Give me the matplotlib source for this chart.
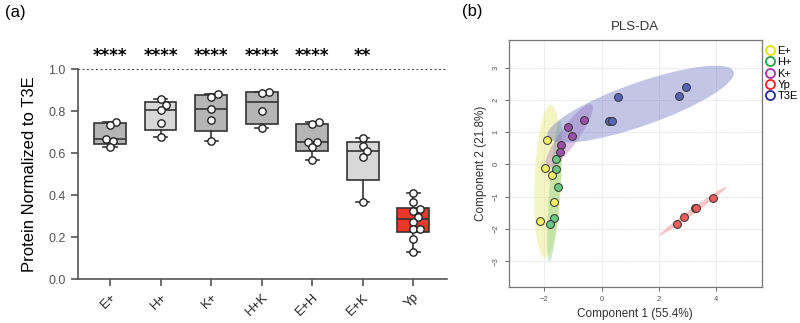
import numpy as np
import matplotlib
matplotlib.use("Agg")
import matplotlib.pyplot as plt
from matplotlib.patches import Ellipse
from matplotlib.lines import Line2D

plt.rcParams["font.family"] = ["Liberation Sans", "DejaVu Sans"]

# ---- panel (a) data: protein normalised to T3E ----
groups = ["E+", "H+", "K+", "H+K", "E+H", "E+K", "Yp"]
values = [
    [0.750, 0.735, 0.669, 0.658, 0.629],
    [0.860, 0.829, 0.805, 0.745, 0.675],
    [0.883, 0.867, 0.810, 0.757, 0.656],
    [0.892, 0.886, 0.800, 0.721],
    [0.748, 0.739, 0.655, 0.655, 0.628, 0.566],
    [0.674, 0.636, 0.610, 0.583, 0.366],
    [0.409, 0.367, 0.333, 0.323, 0.298, 0.272, 0.238, 0.238, 0.192, 0.130],
]
signif = ["****", "****", "****", "****", "****", "**", ""]
box_colors = ["#b5b5b5", "#d8d8d8", "#b5b5b5", "#b5b5b5", "#b5b5b5", "#d8d8d8", "#e8392a"]

# ---- panel (b) data: PLS-DA scores ----
pls_labels = ["E+", "H+", "K+", "Yp", "T3E"]
pls_x = [
    [-1.90, -1.97, -1.72, -1.66, -2.15],
    [-1.61, -1.60, -1.51, -1.68, -1.80],
    [-0.61, -1.16, -1.04, -1.42, -1.45],
    [2.63, 2.90, 3.28, 3.30, 3.91],
    [0.56, 2.70, 2.95, 0.27, 0.36],
]
pls_y = [
    [0.75, -0.12, -0.32, -1.16, -1.75],
    [0.16, -0.13, -0.70, -1.66, -1.83],
    [1.37, 1.17, 0.88, 0.61, 0.37],
    [-1.85, -1.64, -1.34, -1.36, -1.04],
    [2.10, 2.12, 2.41, 1.35, 1.35],
]
edge_cols = ["#e6e000", "#22a345", "#a832a8", "#ee2222", "#1f2c99"]
fill_cols = ["#f2ee66", "#6cc684", "#9b50a8", "#ef5a5a", "#5664b8"]
ell_cols = ["#e8e66a", "#7ccf7c", "#b070c0", "#ef7070", "#6a70c4"]


def swarm_offsets(vals, xscale, yscale, diam):
    """Simple beeswarm: pixel-space placement, returned in data units."""
    order = np.argsort(vals)
    placed = []
    offs = np.zeros(len(vals))
    cands = [0.0]
    for k in range(1, 60):
        cands += [k * 0.5, -k * 0.5]
    for i in order:
        yp = vals[i] * yscale
        for c in cands:
            if all((c - px) ** 2 + (yp - py) ** 2 >= diam ** 2 for px, py in placed):
                placed.append((c, yp))
                offs[i] = c / xscale
                break
    return offs


def conf_ellipse(x, y, ax, color):
    x, y = np.asarray(x), np.asarray(y)
    cov = np.cov(x, y)
    evals, evecs = np.linalg.eigh(cov)
    ang = np.degrees(np.arctan2(evecs[1, 1], evecs[0, 1]))
    s = np.sqrt(5.991)
    w, h = 2 * s * np.sqrt(evals[1]), 2 * s * np.sqrt(evals[0])
    ax.add_patch(Ellipse((x.mean(), y.mean()), w, h, angle=ang,
                         facecolor=color, edgecolor="none", alpha=0.4, zorder=1))


fig = plt.figure(figsize=(8, 3.23), dpi=100)

# ================= panel (a) =================
ax = fig.add_axes([0.097, 0.135, 0.462, 0.651])
stats = []
for v in values:
    v = np.asarray(v)
    q1, med, q3 = np.percentile(v, [25, 50, 75], method="weibull")
    stats.append(dict(med=med, q1=q1, q3=q3, whislo=v.min(), whishi=v.max(), fliers=[]))
pos = np.arange(len(groups))
bp = ax.bxp(stats, positions=pos, widths=0.63, capwidths=0.26, patch_artist=True,
            showfliers=False,
            boxprops=dict(edgecolor="#333333", linewidth=1.2),
            medianprops=dict(color="#333333", linewidth=1.2),
            whiskerprops=dict(color="#333333", linewidth=1.2),
            capprops=dict(color="#333333", linewidth=1.2))
for patch, c in zip(bp["boxes"], box_colors):
    patch.set_facecolor(c)

for i, v in enumerate(values):
    offs = swarm_offsets(np.asarray(v), 50.5, 210.3, 7.0)
    ax.scatter(pos[i] + offs, v, s=28, facecolor="white", edgecolor="#222222",
               linewidth=1.0, zorder=5, clip_on=False)

ax.axhline(1.0, color="#222222", linestyle=(0, (1, 1.5)), linewidth=1.3, zorder=0)
for i, s in enumerate(signif):
    if s:
        ax.text(pos[i], 1.062, s, ha="center", va="center", fontsize=12,
                fontweight="bold", family="DejaVu Sans")

ax.set_xlim(-0.64, 6.67)
ax.set_ylim(0, 1.0)
ax.set_yticks(np.arange(0, 1.01, 0.2))
ax.set_yticklabels([f"{t:.1f}" for t in np.arange(0, 1.01, 0.2)], fontsize=9, color="#333333")
ax.set_xticks(pos)
ax.set_xticklabels(groups, rotation=45, ha="right", rotation_mode="anchor", fontsize=9.5)
ax.set_ylabel("Protein Normalized to T3E", fontsize=12, labelpad=8)
for sp in ["top", "right"]:
    ax.spines[sp].set_visible(False)
for sp in ["left", "bottom"]:
    ax.spines[sp].set_color("#555555")
    ax.spines[sp].set_linewidth(1.2)
ax.tick_params(colors="#555555", width=1.2, length=5)
ax.tick_params(axis="x", labelcolor="#222222")
fig.text(0.006, 0.96, "(a)", fontsize=12, va="center")

# ================= panel (b) =================
bx = fig.add_axes([0.636, 0.112, 0.316, 0.764])
for i in range(len(pls_labels)):
    conf_ellipse(pls_x[i], pls_y[i], bx, ell_cols[i])
for i in range(len(pls_labels)):
    bx.scatter(pls_x[i], pls_y[i], s=32, facecolor=fill_cols[i], edgecolor="#333333",
               linewidth=0.7, zorder=4)
bx.set_xlim(-3.25, 5.61)
bx.set_ylim(-3.79, 3.85)
bx.set_xticks([-2, 0, 2, 4])
bx.set_yticks([-3, -2, -1, 0, 1, 2, 3])
bx.tick_params(labelsize=5.5, colors="#555555", length=3, width=0.6)
for lab in bx.get_yticklabels():
    lab.set_rotation(90)
    lab.set_va("center")
bx.grid(True, color="#dddddd", linestyle=(0, (1, 1)), linewidth=0.7)
bx.set_axisbelow(True)
for sp in bx.spines.values():
    sp.set_color("#777777")
    sp.set_linewidth(0.9)
bx.set_xlabel("Component 1 (55.4%)", fontsize=8.5, color="#333333")
bx.set_ylabel("Component 2 (21.8%)", fontsize=8.5, color="#333333")
bx.set_title("PLS-DA", fontsize=9.5, color="#333333", pad=7)
handles = [Line2D([], [], linestyle="none", marker="o", markersize=6.5,
                  markerfacecolor="none", markeredgecolor=c, markeredgewidth=1.3)
           for c in edge_cols]
bx.legend(handles, pls_labels, loc="upper left", bbox_to_anchor=(1.005, 0.985),
          frameon=False, fontsize=8, handletextpad=0.3, labelspacing=0.12,
          borderaxespad=0.0, borderpad=0.2, handlelength=0.8)
fig.text(0.578, 0.965, "(b)", fontsize=12, va="center")

fig.savefig("out.png", dpi=100)
